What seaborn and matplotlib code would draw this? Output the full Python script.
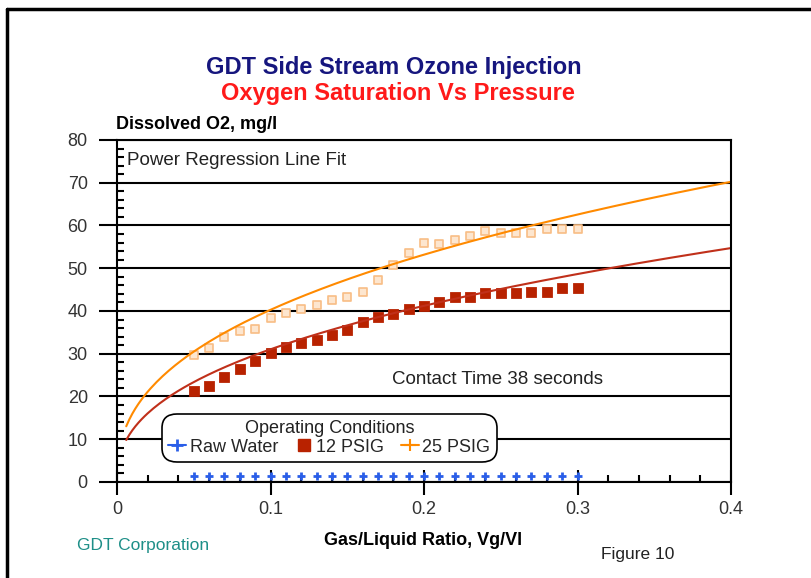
import numpy as np
import pandas as pd
import seaborn as sns
import matplotlib.pyplot as plt
from matplotlib.lines import Line2D
from matplotlib.ticker import MultipleLocator

# gas/liquid ratio for every measured point
ratio = [0.05, 0.06, 0.07, 0.08, 0.09, 0.10, 0.11, 0.12, 0.13, 0.14, 0.15, 0.16, 0.17,
         0.18, 0.19, 0.20, 0.21, 0.22, 0.23, 0.24, 0.25, 0.26, 0.27, 0.28, 0.29, 0.30]

# dissolved O2 (mg/l)
raw_water = [1.5] * 26
psig_12 = [21.3, 22.5, 24.6, 26.4, 28.3, 30.1, 31.5, 32.4, 33.2, 34.4, 35.5, 37.4, 38.5,
           39.3, 40.4, 41.2, 42.2, 43.2, 43.2, 44.3, 44.3, 44.3, 44.5, 44.5, 45.3, 45.3]
psig_25 = [29.7, 31.3, 34.0, 35.4, 35.9, 38.3, 39.6, 40.4, 41.4, 42.6, 43.2, 44.5, 47.3,
           50.8, 53.5, 55.8, 55.7, 56.6, 57.5, 58.6, 58.3, 58.3, 58.3, 59.1, 59.1, 59.1]

# power regression fits y = a * x^b
fit_range = [0.006, 0.4]
fit_12 = [79.6, 0.409]
fit_25 = [101.4, 0.401]

x_ticks = [0, 0.1, 0.2, 0.3, 0.4]
x_ticklabels = ['0', '0.1', '0.2', '0.3', '0.4']
y_ticks = [0, 10, 20, 30, 40, 50, 60, 70, 80]

BLUE = '#2a5ee8'
RED = '#b82200'
RED_LINE = '#c0301a'
ORANGE = '#ff8a00'
ORANGE_PT = '#f8bd85'

sns.set_theme(style='white')
plt.rcParams['font.family'] = ['Liberation Sans', 'DejaVu Sans']

df = pd.DataFrame({'ratio': ratio, 'raw': raw_water, 'p12': psig_12, 'p25': psig_25})
fx = np.linspace(fit_range[0], fit_range[1], 200)
fits = pd.DataFrame({'x': fx,
                     'f12': fit_12[0] * fx ** fit_12[1],
                     'f25': fit_25[0] * fx ** fit_25[1]})

fig = plt.figure(figsize=(8.11, 5.78), dpi=100)
ax = fig.add_axes([0.1443, 0.1661, 0.7571, 0.5917])

ax.yaxis.grid(True, color='black', lw=1.5)
ax.set_axisbelow(True)

sns.lineplot(data=fits, x='x', y='f25', color=ORANGE, lw=1.5, ax=ax)
sns.lineplot(data=fits, x='x', y='f12', color=RED_LINE, lw=1.5, ax=ax)
sns.scatterplot(data=df, x='ratio', y='p25', marker='s', s=32, color='#fde6cf',
                edgecolor=ORANGE_PT, linewidth=1.2, ax=ax)
sns.scatterplot(data=df, x='ratio', y='p12', marker='s', s=52, color=RED,
                edgecolor=RED, ax=ax)
sns.scatterplot(data=df, x='ratio', y='raw', marker='+', s=36, color=BLUE,
                linewidth=2, ax=ax)

ax.set_xlim(0, 0.4)
ax.set_ylim(0, 80)
ax.set_xticks(x_ticks, x_ticklabels)
ax.set_yticks(y_ticks)
ax.xaxis.set_minor_locator(MultipleLocator(0.02))
ax.yaxis.set_minor_locator(MultipleLocator(2))
ax.tick_params(axis='x', which='major', direction='inout', length=18, width=1.5,
               labelsize=13, colors='black', labelcolor='#333333', pad=5, bottom=True)
ax.tick_params(axis='x', which='minor', direction='in', length=5, width=1.5,
               colors='black', bottom=True)
ax.tick_params(axis='y', which='major', direction='out', length=13, width=1.5,
               labelsize=13, colors='black', labelcolor='#333333', pad=8, left=True)
ax.tick_params(axis='y', which='minor', direction='in', length=5, width=1.5,
               colors='black', left=True)
for sp in ax.spines.values():
    sp.set_color('black')
    sp.set_linewidth(1.5)
ax.set_xlabel('')
ax.set_ylabel('')

handles = [
    Line2D([], [], color=BLUE, marker='+', ms=8, mew=2, lw=1.5),
    Line2D([], [], color=RED, marker='s', ms=8, lw=0),
    Line2D([], [], color=ORANGE, marker='+', ms=8, mew=1.5, lw=1.5),
]
leg = ax.legend(handles, ['Raw Water', '12 PSIG', '25 PSIG'], title='Operating Conditions',
                ncol=3, loc='lower left', bbox_to_anchor=(0.066, 0.045), fontsize=13,
                title_fontsize=13, handlelength=1.0, handletextpad=0.2, columnspacing=0.9,
                frameon=True, fancybox=True, borderpad=0.1, labelspacing=0.1)
leg.get_title().set_color('#222222')
frame = leg.get_frame()
frame.set_edgecolor('black')
frame.set_linewidth(1.2)
frame.set_facecolor('white')
frame.set_alpha(1)
frame.set_boxstyle('round,pad=0.25,rounding_size=0.8')

ax.text(0.0065, 75.3, 'Power Regression Line Fit', fontsize=13.5, color='#222222',
        va='center', ha='left')
ax.text(0.179, 24, 'Contact Time 38 seconds', fontsize=13.5, color='#222222',
        va='center', ha='left')

fig.text(0.486, 0.884, 'GDT Side Stream Ozone Injection', fontsize=17, fontweight='bold',
         color='#16167e', ha='center', va='center')
fig.text(0.491, 0.839, 'Oxygen Saturation Vs Pressure', fontsize=17, fontweight='bold',
         color='#ff1a1a', ha='center', va='center')
fig.text(0.143, 0.785, 'Dissolved O2, mg/l', fontsize=13, fontweight='bold',
         color='black', ha='left', va='center')
fig.text(0.5216, 0.0657, 'Gas/Liquid Ratio, Vg/Vl', fontsize=13, fontweight='bold',
         color='black', ha='center', va='center')
fig.text(0.095, 0.0554, 'GDT Corporation', fontsize=12.5, color='#1e8f88',
         ha='left', va='center')
fig.text(0.741, 0.0398, 'Figure 10', fontsize=12.5, color='#222222',
         ha='left', va='center')

# outer frame (left and top edges are visible in the original)
fig.add_artist(Line2D([0.0092, 0.0092], [0, 0.9844], color='black', lw=2.5,
                      transform=fig.transFigure))
fig.add_artist(Line2D([0.0092, 1.0], [0.9844, 0.9844], color='black', lw=2.5,
                      transform=fig.transFigure))

fig.savefig('out.png', dpi=100)
